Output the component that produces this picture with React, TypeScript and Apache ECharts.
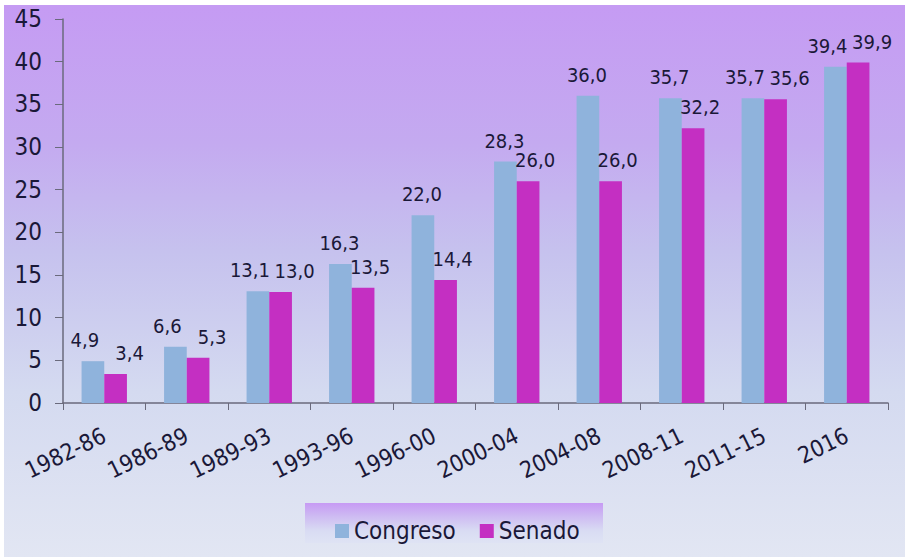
import React, { useEffect, useRef } from "react";
import * as echarts from "echarts";

const categories = ["1982-86", "1986-89", "1989-93", "1993-96", "1996-00", "2000-04", "2004-08", "2008-11", "2011-15", "2016"];
const congreso = [4.9, 6.6, 13.1, 16.3, 22.0, 28.3, 36.0, 35.7, 35.7, 39.4];
const senado = [3.4, 5.3, 13.0, 13.5, 14.4, 26.0, 26.0, 32.2, 35.6, 39.9];
const seriesNames = ["Congreso", "Senado"];

const FONT = "'DejaVu Sans Condensed', 'DejaVu Sans', sans-serif";
const TEXT = "#1a1838";
const fmt = (p: any) => Number(p.value).toFixed(1).replace(".", ",");

// labels of a pair that sit at nearly the same height are pushed apart sideways
const isClose = (i: number) => Math.abs(congreso[i] - senado[i]) < 2.3;

export default function App() {
  const ref = useRef<HTMLDivElement>(null);
  useEffect(() => {
    document.body.style.margin = "0";
    const chart = echarts.init(ref.current!, null, { renderer: "svg" });
    const labelStyle = {
      show: true,
      position: "top" as const,
      distance: 11,
      formatter: fmt,
      fontFamily: FONT,
      fontSize: 20,
      color: TEXT,
    };
    chart.setOption({
      animation: false,
      backgroundColor: new echarts.graphic.LinearGradient(0, 0, 0, 1, [
        { offset: 0, color: "#c59bf3" },
        { offset: 0.25, color: "#c4aaf0" },
        { offset: 0.45, color: "#c6c2ee" },
        { offset: 0.7, color: "#d4daf0" },
        { offset: 1, color: "#e2e6f3" },
      ]),
      graphic: [
        {
          type: "rect",
          left: 301,
          top: 498,
          shape: { width: 298, height: 40 },
          style: {
            fill: new echarts.graphic.LinearGradient(0, 0, 0, 1, [
              { offset: 0, color: "#c79af4" },
              { offset: 0.3, color: "#cdb8f2" },
              { offset: 0.7, color: "#d9dcf3" },
              { offset: 1, color: "#dfe3f4" },
            ]),
          },
          z: -1,
        },
      ],
      legend: {
        data: seriesNames,
        left: 326,
        top: 509,
        itemWidth: 14,
        itemHeight: 14,
        itemGap: 24,
        icon: "rect",
        textStyle: { fontFamily: FONT, fontSize: 24, color: TEXT },
      },
      grid: { left: 59, right: 17, top: 14, bottom: 154 },
      xAxis: {
        type: "category",
        data: categories,
        axisLine: { show: true, lineStyle: { color: "#6a6a7c", width: 1.5 } },
        axisTick: { show: true, length: 7, lineStyle: { color: "#6a6a7c" } },
        axisLabel: {
          rotate: 26,
          margin: 31,
          fontFamily: FONT,
          fontSize: 23,
          color: TEXT,
        },
      },
      yAxis: {
        type: "value",
        min: 0,
        max: 45,
        interval: 5,
        splitLine: { show: false },
        axisLine: { show: true, lineStyle: { color: "#6a6a7c", width: 1.5 } },
        axisTick: { show: true, length: 8, lineStyle: { color: "#6a6a7c" } },
        axisLabel: { fontFamily: FONT, fontSize: 24, color: TEXT, margin: 21 },
      },
      series: [
        {
          name: seriesNames[0],
          type: "bar",
          data: congreso,
          barGap: "0%",
          barCategoryGap: "45%",
          itemStyle: { color: "#8fb3dc" },
          label: labelStyle,
          labelLayout: (p: any) => ({ dx: isClose(p.dataIndex) ? -8 : -1 }),
        },
        {
          name: seriesNames[1],
          type: "bar",
          data: senado,
          itemStyle: { color: "#c42fc2" },
          label: labelStyle,
          labelLayout: (p: any) => ({ dx: isClose(p.dataIndex) ? 14 : 7 }),
        },
      ],
    });
    return () => chart.dispose();
  }, []);
  return (
    <div style={{ width: 905, height: 557, background: "#ffffff", position: "relative" }}>
      <div ref={ref} style={{ position: "absolute", left: 4, top: 5, width: 901, height: 552 }} />
    </div>
  );
}
